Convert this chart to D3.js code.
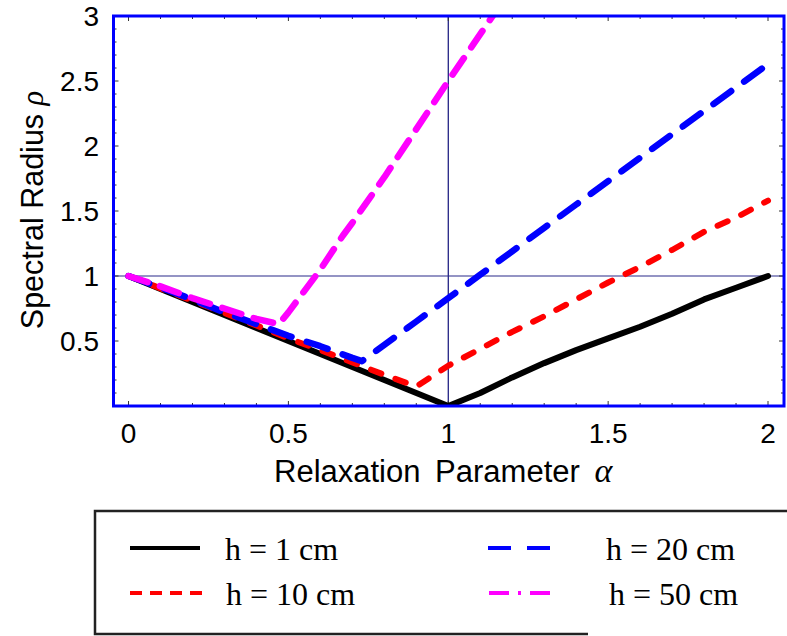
<!DOCTYPE html>
<html>
<head>
<meta charset="utf-8">
<script src="https://cdn.jsdelivr.net/npm/d3@7"></script>
<style>
  body { margin: 0; background: #fff; }
  text { font-family: 'Liberation Sans', Arial, sans-serif; fill: #000; }
  .legend text { font-family: 'Liberation Serif', 'Times New Roman', serif; }
</style>
</head>
<body>
<svg id="chart" width="787" height="636"></svg>
<script>
// values
var alphaBlack = [0, 0.1, 0.2, 0.3, 0.4, 0.5, 0.6, 0.7, 0.8, 0.9, 1.0, 1.1, 1.2, 1.3, 1.4, 1.5, 1.6, 1.7, 1.8, 1.9, 2.0],
    rhoBlack   = [1, 0.9, 0.8, 0.7, 0.6, 0.5, 0.4, 0.3, 0.2, 0.1, 0, 0.1, 0.22, 0.33, 0.43, 0.52, 0.61, 0.71, 0.82, 0.91, 1.0];

var alphaRed = [0, 0.1, 0.2, 0.3, 0.4, 0.5, 0.6, 0.7, 0.8, 0.9, 1.0, 1.1, 1.2, 1.3, 1.4, 1.5, 1.6, 1.7, 1.8, 1.9, 2.0],
    rhoRed   = [1, 0.905, 0.81, 0.715, 0.62, 0.52, 0.43, 0.335, 0.24, 0.15, 0.31, 0.44, 0.57, 0.69, 0.82, 0.95, 1.07, 1.2, 1.34, 1.45, 1.58];

var alphaBlue = [0, 0.1, 0.2, 0.3, 0.4, 0.5, 0.6, 0.7, 0.73, 0.8, 0.9, 1.0, 1.1, 1.2, 1.3, 1.4, 1.5, 1.6, 1.7, 1.8, 1.9, 2.0],
    rhoBlue   = [1, 0.91, 0.82, 0.72, 0.63, 0.54, 0.46, 0.37, 0.345, 0.47, 0.65, 0.83, 1.01, 1.19, 1.37, 1.55, 1.73, 1.91, 2.09, 2.27, 2.45, 2.63];

var alphaMagenta = [0, 0.1, 0.2, 0.3, 0.4, 0.47, 0.5, 0.6, 0.67, 0.7, 0.8, 0.9, 1.0, 1.1, 1.15],
    rhoMagenta   = [1, 0.92, 0.83, 0.75, 0.67, 0.63, 0.72, 1.05, 1.31, 1.41, 1.76, 2.13, 2.5, 2.86, 3.04];

var xTicks = [0, 0.5, 1, 1.5, 2],
    yTicks = [0.5, 1, 1.5, 2, 2.5, 3];

var legendLabels = ['h = 1 cm', 'h = 10 cm', 'h = 20 cm', 'h = 50 cm'];

var series = [
  { alpha: alphaBlack,   rho: rhoBlack,   color: '#000000', width: 6,   dash: null,    leg: { x: 130, y: 548, tx: 225, len: 70, dash: null } },
  { alpha: alphaRed,     rho: rhoRed,     color: '#ff0000', width: 6,   dash: '11,15', leg: { x: 130, y: 593, tx: 226, len: 72, dash: '12,8' } },
  { alpha: alphaBlue,    rho: rhoBlue,    color: '#0000ff', width: 6.5, dash: '22,16', leg: { x: 488, y: 548, tx: 606, len: 62, dash: '23,16' } },
  { alpha: alphaMagenta, rho: rhoMagenta, color: '#ff00ff', width: 6.5, dash: '20,13', leg: { x: 489, y: 593, tx: 609, len: 72, dash: '20,9,3,9,20' } }
];

var svg = d3.select('#chart'),
    plotLeft = 113.5, plotRight = 784, plotTop = 16, plotBottom = 406;

var x = d3.scaleLinear().domain([-0.047, 2.05]).range([plotLeft, plotRight]),
    y = d3.scaleLinear().domain([0, 3]).range([plotBottom, plotTop]);

svg.append('defs').append('clipPath').attr('id', 'plotclip')
   .append('rect')
   .attr('x', plotLeft).attr('y', plotTop)
   .attr('width', plotRight - plotLeft).attr('height', plotBottom - plotTop);

// reference lines at alpha = 1 and rho = 1
svg.append('line')
   .attr('x1', x(1)).attr('x2', x(1)).attr('y1', plotTop).attr('y2', plotBottom)
   .attr('stroke', '#10107a').attr('stroke-width', 1.2);
svg.append('line')
   .attr('x1', plotLeft).attr('x2', plotRight).attr('y1', y(1)).attr('y2', y(1))
   .attr('stroke', '#2a2a8a').attr('stroke-width', 1.2);

// minor / major ticks on all four sides, pointing in
var minorX = d3.range(0, 21).map(function(i) { return i / 10; }),
    minorY = d3.range(1, 30).map(function(i) { return i / 10; });

function isMajor(v) { return Math.abs(v * 2 - Math.round(v * 2)) < 1e-6; }

var ticks = svg.append('g').attr('stroke', '#333').attr('stroke-width', 1);
minorX.forEach(function(v) {
  var l = isMajor(v) ? 5 : 3;
  ticks.append('line').attr('x1', x(v)).attr('x2', x(v)).attr('y1', plotBottom).attr('y2', plotBottom - l);
  ticks.append('line').attr('x1', x(v)).attr('x2', x(v)).attr('y1', plotTop).attr('y2', plotTop + l);
});
minorY.forEach(function(v) {
  var l = isMajor(v) ? 5 : 3;
  ticks.append('line').attr('y1', y(v)).attr('y2', y(v)).attr('x1', plotLeft).attr('x2', plotLeft + l);
  ticks.append('line').attr('y1', y(v)).attr('y2', y(v)).attr('x1', plotRight).attr('x2', plotRight - l);
});

// curves
var line = d3.line()
  .x(function(d) { return x(d[0]); })
  .y(function(d) { return y(d[1]); });

var curves = svg.append('g').attr('clip-path', 'url(#plotclip)');
series.forEach(function(s) {
  var pts = s.alpha.map(function(a, i) { return [a, s.rho[i]]; });
  curves.append('path')
    .datum(pts)
    .attr('d', line)
    .attr('fill', 'none')
    .attr('stroke', s.color)
    .attr('stroke-width', s.width)
    .attr('stroke-linecap', 'round')
    .attr('stroke-linejoin', 'round')
    .attr('stroke-dasharray', s.dash);
});

// frame
svg.append('rect')
   .attr('x', plotLeft).attr('y', plotTop)
   .attr('width', plotRight - plotLeft).attr('height', plotBottom - plotTop)
   .attr('fill', 'none').attr('stroke', '#0000ff').attr('stroke-width', 3);

// tick labels
svg.append('g').selectAll('text')
   .data(xTicks).enter().append('text')
   .attr('x', function(d) { return x(d); })
   .attr('y', 443)
   .attr('text-anchor', 'middle')
   .style('font-size', '28px')
   .text(function(d) { return d; });

svg.append('g').selectAll('text')
   .data(yTicks).enter().append('text')
   .attr('x', 99)
   .attr('y', function(d) { return y(d); })
   .attr('dy', '0.36em')
   .attr('text-anchor', 'end')
   .style('font-size', '28px')
   .text(function(d) { return d; });

// axis titles
var xt = svg.append('text')
   .attr('x', 274).attr('y', 482)
   .style('font-size', '31px')
   .style('word-spacing', '6px');
xt.append('tspan').text('Relaxation Parameter ');
xt.append('tspan').style('font-family', "'Liberation Serif', serif").style('font-style', 'italic').style('font-size', '34px').text('α');

var yt = svg.append('text')
   .attr('transform', 'translate(43,210) rotate(-90)')
   .attr('text-anchor', 'middle')
   .style('font-size', '30.5px');
yt.append('tspan').text('Spectral Radius ');
yt.append('tspan').style('font-family', "'Liberation Serif', serif").style('font-style', 'italic').text('ρ');

// legend box (right side is cut off in the original)
var legend = svg.append('g').attr('class', 'legend');
legend.append('path')
  .attr('d', 'M787,511H95V634H588')
  .attr('fill', 'none').attr('stroke', '#222').attr('stroke-width', 2.5);

series.forEach(function(s, i) {
  legend.append('line')
    .attr('x1', s.leg.x).attr('x2', s.leg.x + s.leg.len)
    .attr('y1', s.leg.y).attr('y2', s.leg.y)
    .attr('stroke', s.color).attr('stroke-width', 4)
    .attr('stroke-dasharray', s.leg.dash);
  legend.append('text')
    .attr('x', s.leg.tx).attr('y', s.leg.y + 12)
    .style('font-size', '32px')
    .text(legendLabels[i]);
});
</script>
</body>
</html>
